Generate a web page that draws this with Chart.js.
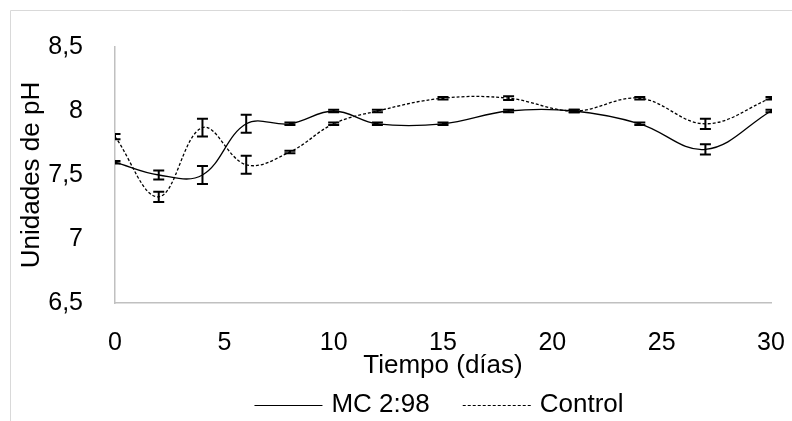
<!DOCTYPE html>
<html>
<head>
<meta charset="utf-8">
<script src="https://cdn.jsdelivr.net/npm/chart.js@4/dist/chart.umd.min.js"></script>
<style>
  html, body { margin: 0; padding: 0; background: #fff; }
</style>
</head>
<body>
<canvas id="chart" width="792" height="421"></canvas>
<script>
// data
const dias = [0, 2, 4, 6, 8, 10, 12, 15, 18, 21, 24, 27, 30];
const phMC = [7.6, 7.5, 7.5, 7.9, 7.9, 8.0, 7.9, 7.9, 8.0, 8.0, 7.9, 7.7, 8.0];
const errMC = [0.01, 0.035, 0.07, 0.07, 0.01, 0.01, 0.01, 0.01, 0.01, 0.01, 0.01, 0.04, 0.01];
const phControl = [7.8, 7.33, 7.87, 7.58, 7.68, 7.9, 8.0, 8.1, 8.1, 8.0, 8.1, 7.9, 8.1];
const errControl = [0.02, 0.04, 0.07, 0.07, 0.01, 0.01, 0.01, 0.01, 0.015, 0.01, 0.01, 0.04, 0.01];
const seriesNames = ['MC 2:98', 'Control'];
const xTicks = [0, 5, 10, 15, 20, 25, 30];
const yTicks = [6.5, 7, 7.5, 8, 8.5];

const FONT = 'Liberation Sans, Arial, sans-serif';
const errors = [errMC, errControl];

function points(ys) {
    return dias.map((d, i) => ({ x: d, y: ys[i] }));
}

// light frame line on top and left, like the source image
const frame = {
    id: 'frame',
    beforeDraw(chart) {
        const ctx = chart.ctx;
        ctx.save();
        ctx.strokeStyle = '#d9d9d9';
        ctx.lineWidth = 1;
        ctx.beginPath();
        ctx.moveTo(10.5, chart.height);
        ctx.lineTo(10.5, 10.5);
        ctx.lineTo(chart.width, 10.5);
        ctx.stroke();
        ctx.restore();
    }
};

const errorBars = {
    id: 'errorBars',
    afterDatasetsDraw(chart) {
        const { ctx, chartArea, scales: { x, y } } = chart;
        ctx.save();
        ctx.beginPath();
        ctx.rect(chartArea.left, chartArea.top - 10, chartArea.right - chartArea.left + 1, chartArea.bottom - chartArea.top + 20);
        ctx.clip();
        ctx.strokeStyle = '#000';
        ctx.lineWidth = 2;
        chart.data.datasets.forEach((ds, di) => {
            ds.data.forEach((p, i) => {
                const e = errors[di][i];
                const px = x.getPixelForValue(p.x);
                const top = y.getPixelForValue(p.y + e);
                const bot = y.getPixelForValue(p.y - e);
                ctx.beginPath();
                ctx.moveTo(px, top); ctx.lineTo(px, bot);
                ctx.moveTo(px - 5.5, top); ctx.lineTo(px + 5.5, top);
                ctx.moveTo(px - 5.5, bot); ctx.lineTo(px + 5.5, bot);
                ctx.stroke();
            });
        });
        ctx.restore();
    }
};

// legend drawn by hand so the sample lines and spacing match
const legendLines = {
    id: 'legendLines',
    afterDraw(chart) {
        const ctx = chart.ctx;
        const sample = 68, gap = 9, between = 33, yMid = 405;
        ctx.save();
        ctx.font = '26px ' + FONT;
        ctx.textBaseline = 'middle';
        const widths = chart.data.datasets.map(ds => sample + gap + ctx.measureText(ds.label).width);
        const total = widths.reduce((a, b) => a + b, 0) + between * (widths.length - 1);
        let xPos = (chart.chartArea.left + chart.chartArea.right) / 2 - 4 - total / 2;
        chart.data.datasets.forEach((ds, i) => {
            ctx.strokeStyle = '#000';
            ctx.lineWidth = 1.2;
            ctx.setLineDash(ds.borderDash || []);
            ctx.beginPath();
            ctx.moveTo(xPos, yMid + 0.5);
            ctx.lineTo(xPos + sample, yMid + 0.5);
            ctx.stroke();
            ctx.setLineDash([]);
            ctx.fillStyle = '#000';
            ctx.fillText(ds.label, xPos + sample + gap, yMid);
            xPos += widths[i] + between;
        });
        ctx.restore();
    }
};

const ctx = document.getElementById('chart').getContext('2d');
new Chart(ctx, {
    type: 'scatter',
    data: {
        datasets: [
            {
                label: seriesNames[0],
                data: points(phMC),
                showLine: true,
                borderColor: '#000',
                borderWidth: 1.3,
                tension: 0.38,
                pointRadius: 0
            },
            {
                label: seriesNames[1],
                data: points(phControl),
                showLine: true,
                borderColor: '#000',
                borderWidth: 1.3,
                borderDash: [3, 2],
                tension: 0.38,
                pointRadius: 0
            }
        ]
    },
    options: {
        responsive: false,
        animation: false,
        layout: { padding: { left: 10, right: 21, top: 47, bottom: 34 } },
        plugins: {
            legend: { display: false },
            tooltip: { enabled: false }
        },
        scales: {
            x: {
                type: 'linear',
                min: 0,
                max: 30,
                afterFit(scale) {
                    scale.height = 84;
                    scale.paddingLeft = 0;
                    scale.paddingRight = 0;
                },
                afterBuildTicks(scale) { scale.ticks = xTicks.map(v => ({ value: v })); },
                grid: { display: false },
                border: { display: true, color: '#c0c0c0', width: 1.5 },
                ticks: { font: { family: FONT, size: 25 }, color: '#000', padding: 17, maxRotation: 0 },
                title: {
                    display: true,
                    text: 'Tiempo (días)',
                    font: { family: FONT, size: 26 },
                    color: '#000',
                    padding: { top: 0, bottom: 6 }
                }
            },
            y: {
                min: 6.5,
                max: 8.5,
                afterFit(scale) {
                    scale.width = 105;
                    scale.paddingTop = 0;
                    scale.paddingBottom = 0;
                },
                afterBuildTicks(scale) { scale.ticks = yTicks.map(v => ({ value: v })); },
                grid: { display: false },
                border: { display: true, color: '#c0c0c0', width: 1.5 },
                ticks: {
                    font: { family: FONT, size: 25 },
                    color: '#000',
                    padding: 24,
                    callback: v => String(v).replace('.', ',')
                },
                title: {
                    display: true,
                    text: 'Unidades de pH',
                    font: { family: FONT, size: 26 },
                    color: '#000',
                    padding: { top: 6, bottom: 0 }
                }
            }
        }
    },
    plugins: [frame, errorBars, legendLines]
});
</script>
</body>
</html>
